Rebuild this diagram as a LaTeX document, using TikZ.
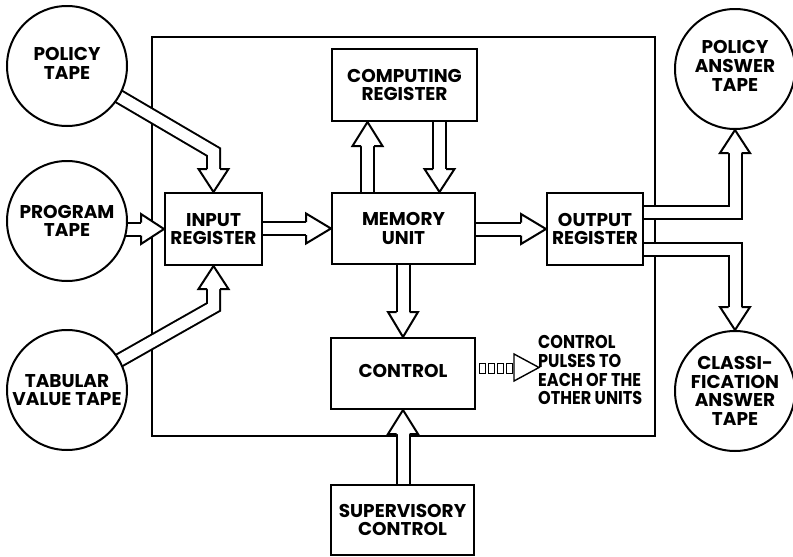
\documentclass[tikz,border=0pt]{standalone}
\usepackage{fontspec}
\setmainfont{Poppins}
\usetikzlibrary{calc}
\pgfdeclarelayer{frame}
\pgfdeclarelayer{arrows}
\pgfsetlayers{frame,arrows,main}
\newcommand\lab{\bfseries\fontsize{18.5}{18.8}\selectfont}
\newcommand\up[2]{\raisebox{#1}{\begin{tabular}{@{}c@{}}#2\end{tabular}}}
\newcommand\hhead[2]{%
  \filldraw[headst] ($(#1)!6.5pt!90:(#2)$) -- ($(#1)!15pt!90:(#2)$) -- (#2)
    -- ($(#1)!15pt!-90:(#2)$) -- ($(#1)!6.5pt!-90:(#2)$);}
\tikzset{
  box/.style={draw, line width=2pt, fill=white, inner sep=0pt, font=\lab, align=center},
  tape/.style={draw, circle, line width=2pt, fill=white, minimum size=120pt, inner sep=0pt, font=\lab, align=center},
  shaft/.style={line width=2pt, double=white, double distance=11pt, line join=miter},
  headst/.style={line width=2pt, fill=white, line join=miter},
  pulse/.style={line width=1pt, line join=miter},
  framest/.style={line width=2pt},
}
\begin{document}
\begin{tikzpicture}[x=1pt,y=-1pt]
\useasboundingbox (0,0) rectangle (793,557);
% tapes
\node[tape] (pol)  at (67,66)  {\up{3pt}{POLICY\\TAPE}};
\node[tape] (prog) at (67,221) {PROGRAM\\TAPE};
\node[tape] (tab)  at (67,390) {TABULAR\\VALUE TAPE};
\node[tape] (pans) at (735,69) {\up{6pt}{POLICY\\ANSWER\\TAPE}};
\node[tape] (cls)  at (735,391) {CLASSI-\\FICATION\\ANSWER\\TAPE};
% registers and units
\node[box, minimum width=97pt, minimum height=72pt]  (in)   at (213.5,229) {INPUT\\REGISTER};
\node[box, minimum width=143pt, minimum height=71pt] (mem)  at (403.5,228.5) {MEMORY\\UNIT};
\node[box, minimum width=96pt, minimum height=72pt]  (out)  at (595,229) {OUTPUT\\REGISTER};
\node[box, minimum width=145pt, minimum height=72pt] (comp) at (404.5,85) {COMPUTING\\REGISTER};
\node[box, minimum width=144pt, minimum height=71pt] (ctl)  at (403,373.5) {\raisebox{5pt}{CONTROL}};
\node[box, minimum width=143pt, minimum height=70pt] (sup)  at (402.5,520) {SUPERVISORY\\CONTROL};
\node[anchor=north west, inner sep=0pt, font=\lab] (note) at (538,335)
  {\scalebox{0.87}[1]{\begin{tabular}{@{}l@{}}CONTROL\\PULSES TO\\EACH OF THE\\OTHER UNITS\end{tabular}}};
% frame
\begin{pgfonlayer}{frame}
  \draw[framest] (152,37) rectangle (655,436);
\end{pgfonlayer}
% hollow arrows
\begin{pgfonlayer}{arrows}
  % policy tape -> input
  \coordinate (a1) at ($(in.north)+(0,-23)$);
  \draw[shaft] (pol.center) -- ($(a1)+(0,-17)$) -- (a1);
  \hhead{a1}{in.north}
  % program tape -> input
  \coordinate (a2) at ($(in.west)+(-23,0)$);
  \draw[shaft] (prog.center |- a2) -- (a2);
  \hhead{a2}{in.west}
  % tabular tape -> input
  \coordinate (a3) at ($(in.south)+(0,23)$);
  \draw[shaft] (tab.center) -- ($(a3)+(0,18)$) -- (a3);
  \hhead{a3}{in.south}
  % input -> memory
  \coordinate (a4) at ($(mem.west)+(-25,0)$);
  \draw[shaft] (in.center |- a4) -- (a4);
  \hhead{a4}{mem.west}
  % memory -> computing
  \coordinate (t5) at ($(comp.south)+(-37,0)$);
  \coordinate (a5) at ($(t5)+(0,24)$);
  \draw[shaft] (t5 |- mem.center) -- (a5);
  \hhead{a5}{t5}
  % computing -> memory
  \coordinate (t6) at ($(mem.north)+(36,0)$);
  \coordinate (a6) at ($(t6)+(0,-23)$);
  \draw[shaft] (t6 |- comp.center) -- (a6);
  \hhead{a6}{t6}
  % memory -> output
  \coordinate (a7) at ($(out.west)+(-25,0)$);
  \draw[shaft] (mem.center |- a7) -- (a7);
  \hhead{a7}{out.west}
  % memory -> control
  \coordinate (a8) at ($(ctl.north)+(0,-25)$);
  \draw[shaft] (mem.center -| a8) -- (a8);
  \hhead{a8}{ctl.north}
  % supervisory -> control
  \coordinate (a9) at ($(ctl.south)+(0,24)$);
  \draw[shaft] (sup.center -| a9) -- (a9);
  \hhead{a9}{ctl.south}
  % output -> policy answer tape
  \coordinate (a10) at ($(pans.south)+(0,23)$);
  \draw[shaft] ($(out.center)+(0,-17)$) -- ($(pans.south |- out.center)+(0,-17)$) -- (a10);
  \hhead{a10}{pans.south}
  % output -> classification answer tape
  \coordinate (a11) at ($(cls.north)+(0,-23)$);
  \draw[shaft] ($(out.center)+(0,20.5)$) -- ($(cls.north |- out.center)+(0,20.5)$) -- (a11);
  \hhead{a11}{cls.north}
\end{pgfonlayer}
% control pulses
\foreach \i in {0,...,3}
  \draw[pulse] ($(ctl.east)+(3+9*\i,-10.5)$) rectangle +(6.5,10);
\coordinate (pb) at ($(ctl.east)+(38,-6)$);
\coordinate (pt) at ($(pb)+(25,0)$);
\draw[pulse, line width=1.4pt] ($(pb)+(0,-13.5)$) -- (pt) -- ($(pb)+(0,13.5)$) -- cycle;
\end{tikzpicture}
\end{document}
